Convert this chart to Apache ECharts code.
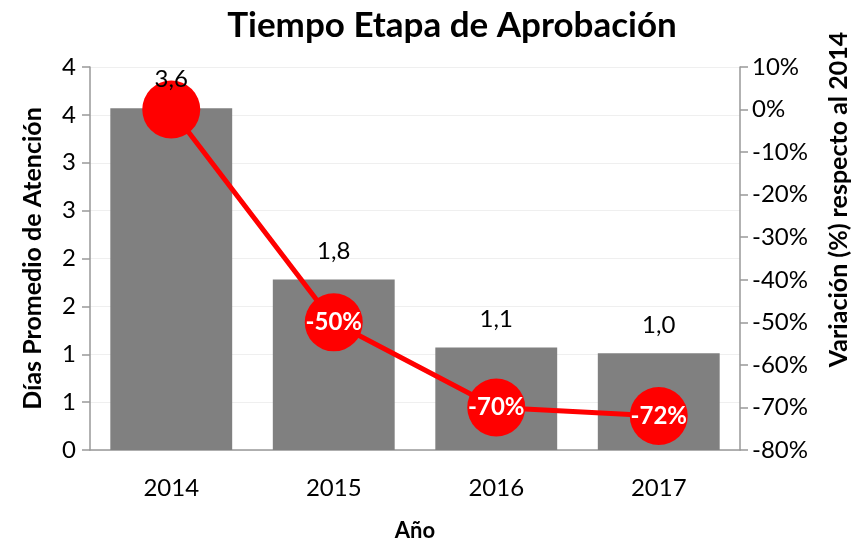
<!DOCTYPE html>
<html>
<head>
<meta charset="utf-8">
<script src="https://cdn.jsdelivr.net/npm/echarts@6/dist/echarts.min.js"></script>
<style>
  html, body {margin: 0; padding: 0; background: #fff;}
  #chart {width: 867px; height: 543px;}
</style>
</head>
<body>
<div id="chart"></div>
<script>
const years = ['2014', '2015', '2016', '2017'];
const dias = [3.57, 1.78, 1.07, 1.01];
const variacion = [0, -0.50, -0.70, -0.72];

const font = 'Lato, "Open Sans", sans-serif';
const chart = echarts.init(document.getElementById('chart'));

chart.setOption({
  animation: false,
  textStyle: {fontFamily: font},
  title: {
    text: 'Tiempo Etapa de Aprobación',
    left: 447,
    textAlign: 'center',
    top: 3,
    textStyle: {fontSize: 35, fontWeight: 'bold', color: '#000', fontFamily: font}
  },
  grid: {left: 90, right: 127, top: 67, bottom: 93, outerBoundsMode: 'none'},
  xAxis: {
    type: 'category',
    data: years,
    name: 'Año',
    nameLocation: 'middle',
    nameGap: 70,
    nameTextStyle: {fontSize: 22, fontWeight: 'bold', color: '#000'},
    axisLine: {lineStyle: {color: '#999', width: 1.5}},
    axisTick: {length: 8, lineStyle: {color: '#999', width: 1.5}},
    axisLabel: {fontSize: 24, color: '#000', margin: 26}
  },
  yAxis: [{
    type: 'value',
    min: 0,
    max: 4,
    interval: 0.5,
    name: 'Días Promedio de Atención',
    nameLocation: 'middle',
    nameRotate: 90,
    nameGap: 45,
    nameTextStyle: {fontSize: 25, fontWeight: 'bold', color: '#000'},
    axisLine: {show: true, lineStyle: {color: '#999', width: 1.5}},
    axisTick: {show: true, length: 8, lineStyle: {color: '#999', width: 1.5}},
    axisLabel: {fontSize: 24, color: '#000', margin: 14, formatter: v => Math.round(v)},
    splitLine: {lineStyle: {color: '#efefef'}}
  }, {
    type: 'value',
    min: -0.8,
    max: 0.1,
    interval: 0.1,
    position: 'right',
    name: 'Variación (%) respecto al 2014',
    nameLocation: 'middle',
    nameRotate: 90,
    nameGap: 86,
    nameTextStyle: {fontSize: 25, fontWeight: 'bold', color: '#000', padding: [0, 0, 0, 118]},
    axisLine: {show: true, lineStyle: {color: '#999', width: 1.5}},
    axisTick: {show: true, length: 8, lineStyle: {color: '#999', width: 1.5}},
    axisLabel: {fontSize: 24, color: '#000', margin: 12, formatter: v => Math.round(v * 100) + '%'},
    splitLine: {show: false}
  }],
  series: [{
    type: 'bar',
    data: dias,
    barCategoryGap: '25%',
    itemStyle: {color: '#808080'}
  }, {
    type: 'line',
    yAxisIndex: 1,
    data: variacion,
    symbol: 'circle',
    symbolSize: 58,
    itemStyle: {color: '#ff0000'},
    lineStyle: {color: '#ff0000', width: 5},
    label: {
      show: true,
      position: 'inside',
      fontSize: 24,
      fontWeight: 'bold',
      color: '#fff',
      formatter: p => p.value === 0 ? '' : Math.round(p.value * 100) + '%'
    }
  }, {
    // bar value labels on their own layer, above the line circles
    type: 'scatter',
    data: dias,
    zlevel: 1,
    symbolSize: 1,
    itemStyle: {color: 'rgba(0,0,0,0)', opacity: 1},
    silent: true,
    label: {
      show: true,
      position: 'top',
      distance: 16,
      fontSize: 24,
      color: '#000',
      formatter: p => p.value.toFixed(1).replace('.', ',')
    }
  }]
});
</script>
</body>
</html>
